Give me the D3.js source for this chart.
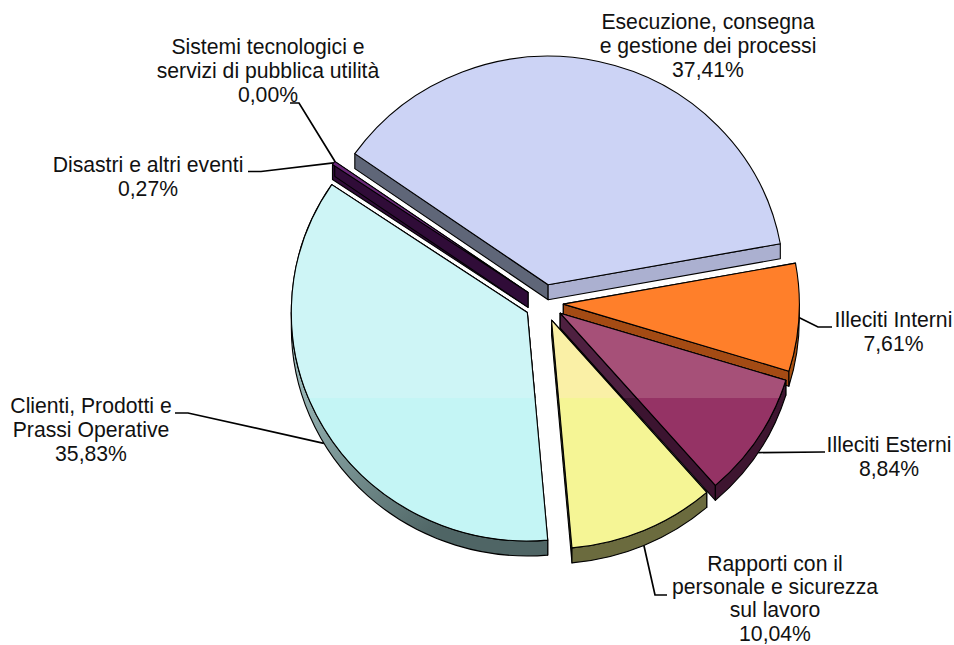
<!DOCTYPE html>
<html><head><meta charset="utf-8">
<script src="https://cdn.jsdelivr.net/npm/d3@7/dist/d3.min.js"></script>
<style>html,body{margin:0;background:#fff;overflow:hidden}svg{display:block}
text{font-family:"Liberation Sans",Arial,sans-serif;font-size:21.2px;fill:#111}</style>
</head><body><svg id="c" width="954" height="645"></svg>
<script>
const categories=["Esecuzione, consegna e gestione dei processi","Illeciti Interni","Illeciti Esterni","Rapporti con il personale e sicurezza sul lavoro","Clienti, Prodotti e Prassi Operative","Disastri e altri eventi","Sistemi tecnologici e servizi di pubblica utilità"];
const values=[37.41,7.61,8.84,10.04,35.83,0.27,0.00];
const valueLabels=["37,41%","7,61%","8,84%","10,04%","35,83%","0,27%","0,00%"];
const labelLines=[["Esecuzione, consegna","e gestione dei processi"],["Illeciti Interni"],["Illeciti Esterni"],["Rapporti con il","personale e sicurezza","sul lavoro"],["Clienti, Prodotti e","Prassi Operative"],["Disastri e altri eventi"],["Sistemi tecnologici e","servizi di pubblica utilità"]];
// appearance, by category
const topBelow=["#ccd3f5","#ff7f2a","#953365","#f5f595","#c4f5f5","#6a2878","#6a2878"];
const topAbove=["#ccd3f5","#ff7f2a","#a65078","#faf0a6","#cef5f6","#6a2878","#6a2878"];
const cutStart=["#5f6678","#a44b14","#3c1430","#5c5c30","#4f6565","#300c38","#300c38"];
const cutEnd=["#abb0d0","#a44b14","#3c1430","#5c5c30","#4f6565","#300c38","#300c38"];
const cutEndAbove=["#abb0d0","#a44b14","#4e2040","#5c5c30","#4f6565","#300c38","#300c38"];
const rimColor=["#abb0d0","#a85010","#3e1530","#6b6b3e","url(#cyanRim)","#300c38","#300c38"];
// layout
const cx=544,cy=303,R=236,K=0.968,DEPTH=15,EXPLODE=19.35,START=-55,BAND=398,EDGE=1.1;
const labelPos=[[708,28.5],[893.5,327],[889,452],[775,570.5],[91,413],[148,172],[268,54]];
const lineStep=[24,24,24,23.4,24,24,24];
const leaderElbows=[null,[[818,327],[832,327]],[[823,452],[825,452]],[[655,595],[667,595]],[[188,413],[175,413]],[[261,171.5],[248,171.5]],[[299,103],[290,103]]];
const leaderFromRim=[false,false,true,true,true,false,false];
const drawOrder=[0,5,6,4,1,3,2];

const svg=d3.select("#c");
const defs=svg.append("defs");
const g=defs.append("linearGradient").attr("id","cyanRim").attr("gradientUnits","userSpaceOnUse")
 .attr("x1",295).attr("y1",380).attr("x2",440).attr("y2",530);
g.append("stop").attr("offset",0).attr("stop-color","#9ab8b8");
g.append("stop").attr("offset",1).attr("stop-color","#4f6565");
defs.append("clipPath").attr("id","upper").append("rect").attr("x",0).attr("y",0).attr("width",954).attr("height",BAND);

const rad=d=>d*Math.PI/180;
const pie=d3.pie().sort(null).startAngle(rad(START)).endAngle(rad(START+360));
const arcs=pie(values);
const arcGen=d3.arc().innerRadius(0).outerRadius(R);
const origin=a=>{const m=(a.startAngle+a.endAngle)/2;return [cx+EXPLODE*Math.sin(m),cy-EXPLODE*Math.cos(m)*K];};
const onEdge=(o,t)=>[o[0]+R*Math.sin(t),o[1]-R*K*Math.cos(t)];

const ln=d3.line();
const sweep=(a,b,dy)=>`M${a[0]},${a[1]}A${R},${R*K} 0 0 1 ${b[0]},${b[1]}L${b[0]},${b[1]+dy}A${R},${R*K} 0 0 0 ${a[0]},${a[1]+dy}Z`;
const quad=(o,p)=>ln([o,p,[p[0],p[1]+DEPTH],[o[0],o[1]+DEPTH]])+"Z";

// leaders first: the pie sits on top of their ends
values.forEach((v,i)=>{
  const a=arcs[i],o=origin(a),p=onEdge(o,(a.startAngle+a.endAngle)/2);
  if(!leaderElbows[i])return;
  const s=[p[0],p[1]+(leaderFromRim[i]?DEPTH:0)];
  svg.append("path").attr("d",ln([s,...leaderElbows[i]])).attr("fill","none").attr("stroke","#000").attr("stroke-width",1.7);
});

drawOrder.forEach(i=>{
  const a=arcs[i]; if(a.endAngle-a.startAngle<=0)return;
  const o=origin(a),s=svg.append("g");
  const add=(d,f,parent)=>(parent||s).append("path").attr("d",d).attr("fill",f)
     .attr("stroke","#000").attr("stroke-width",EDGE).attr("stroke-linejoin","round").attr("vector-effect","non-scaling-stroke");
  add(quad(o,onEdge(o,a.startAngle)),cutStart[i]);
  add(quad(o,onEdge(o,a.endAngle)),cutEnd[i]);
  if(cutEndAbove[i]!==cutEnd[i]) add(quad(o,onEdge(o,a.endAngle)),cutEndAbove[i]).attr("clip-path","url(#upper)");
  // rim: only the part of the outer wall that faces the viewer
  const lo=Math.max(a.startAngle,rad(90)),hi=Math.min(a.endAngle,rad(270));
  if(hi>lo) add(sweep(onEdge(o,lo),onEdge(o,hi),DEPTH),rimColor[i]);
  const tf=`translate(${o[0]},${o[1]}) scale(1,${K})`;
  add(arcGen(a),topBelow[i]).attr("transform",tf);
  if(topAbove[i]!==topBelow[i]){
    add(arcGen(a),topAbove[i],s.append("g").attr("clip-path","url(#upper)")).attr("transform",tf);
  }
});

labelLines.forEach((ls,i)=>{
  const t=svg.append("text").attr("text-anchor","middle");
  [...ls,valueLabels[i]].forEach((s,j)=>t.append("tspan").attr("x",labelPos[i][0]).attr("y",labelPos[i][1]+j*lineStep[i]).text(s));
});
</script></body></html>
